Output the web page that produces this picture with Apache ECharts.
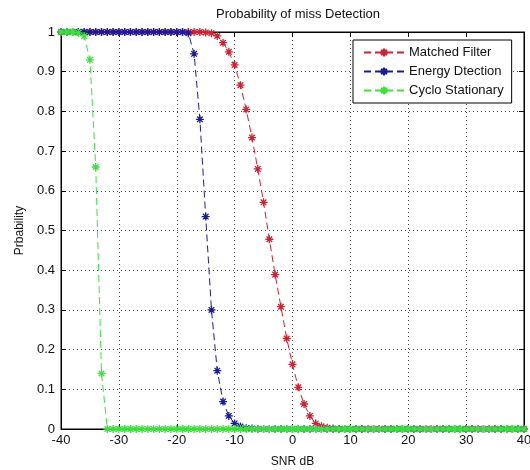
<!DOCTYPE html>
<html><head><meta charset="utf-8">
<script src="https://cdn.jsdelivr.net/npm/echarts@6/dist/echarts.min.js"></script>
<style>html,body{margin:0;padding:0;background:#fff}#c{width:530px;height:470px}</style>
</head><body><div id="c"></div>
<script>
const snr = [-40,-39,-38,-37,-36,-35,-34,-33,-32,-31,-30,-29,-28,-27,-26,-25,-24,-23,-22,-21,
  -20,-19,-18,-17,-16,-15,-14,-13,-12,-11,-10,-9,-8,-7,-6,-5,-4,-3,-2,-1,
  0,1,2,3,4,5,6,7,8,9,10,11,12,13,14,15,16,17,18,19,
  20,21,22,23,24,25,26,27,28,29,30,31,32,33,34,35,36,37,38,39,40];
const matchedFilter = [1,1,1,1,1,1,1,1,1,1, 1,1,1,1,1,1,1,1,1,1, 1,1,1,1,1,
  0.999,0.997,0.99,0.973,0.95,0.917,0.866,0.805,0.734,0.655,0.571,0.478,0.389,0.308,0.228,
  0.163,0.105,0.063,0.033,0.014,0.007,0.003,0.001,
  0,0,0,0,0,0,0,0,0,0, 0,0,0,0,0,0,0,0,0,0, 0,0,0,0,0,0,0,0,0,0, 0,0,0];
const energyDetection = [1,1,1,1,1,1,1,1,1,1, 1,1,1,1,1,1,1,1,1,1, 1,1,
  0.997,0.945,0.78,0.535,0.30,0.147,0.069,0.033,0.014,0.006,0.002,0.001,
  0,0,0,0,0,0,0,0,0,0, 0,0,0,0,0,0,0,0,0,0, 0,0,0,0,0,0,0,0,0,0, 0,0,0,0,0,0,0,0,0,0, 0,0,0,0,0,0,0];
const cycloStationary = [1,1,1, 0.998,0.99,0.93,0.66,0.14,
  0,0,0,0,0,0,0,0,0,0, 0,0,0,0,0,0,0,0,0,0, 0,0,0,0,0,0,0,0,0,0, 0,0,0,0,0,0,0,0,0,0,
  0,0,0,0,0,0,0,0,0,0, 0,0,0,0,0,0,0,0,0,0, 0,0,0,0,0,0,0,0,0,0, 0,0,0];
const seriesNames = ['Matched Filter','Energy Dtection','Cyclo Stationary'];
const seriesColors = ['#cc2233','#1c1c96','#3ee03e'];
const xTicks = {min:-40, max:40, interval:10};
const yTicks = {min:0, max:1, interval:0.1};

const star = 'path://M5,0L5,10M0,5L10,5M1.5,1.5L8.5,8.5M8.5,1.5L1.5,8.5';
const FONT = 'Liberation Sans, Arial, sans-serif';
const chart = echarts.init(document.getElementById('c'), null, {renderer:'canvas'});
function pairs(v){ return snr.map((x,i)=>[x,v[i]]); }
const allData = [matchedFilter, energyDetection, cycloStationary];
const grid = {left:61, right:6, top:32, bottom:41, containLabel:false, outerBoundsMode:'none',
  show:true, borderColor:'#000', borderWidth:1, backgroundColor:'#fff'};
const splitLine = {show:true, lineStyle:{color:'#444', type:[1,3], width:1}};
chart.setOption({
  animation:false,
  backgroundColor:'#fff',
  title:{text:'Probability of miss Detection', left:293, top:3, textAlign:'center',
    textStyle:{fontFamily:FONT, fontSize:13, fontWeight:'normal', color:'#111'}},
  legend:{orient:'vertical', left:353, top:40, width:150, padding:[6,8,6,10], itemGap:6,
    backgroundColor:'#fff', borderColor:'#000', borderWidth:1,
    itemWidth:40, itemHeight:10, data:seriesNames,
    textStyle:{fontFamily:FONT, fontSize:13, color:'#111'}},
  grid:grid,
  xAxis:[{type:'value', min:xTicks.min, max:xTicks.max, interval:xTicks.interval,
    name:'SNR dB', nameLocation:'middle', nameGap:27,
    nameTextStyle:{fontFamily:FONT, fontSize:12, color:'#111'},
    axisLine:{onZero:false, lineStyle:{color:'#000'}}, axisTick:{inside:true, length:5, lineStyle:{color:'#000'}},
    axisLabel:{fontFamily:FONT, fontSize:13, color:'#111', margin:5},
    splitLine:splitLine},
   {type:'value', position:'top', min:xTicks.min, max:xTicks.max, interval:xTicks.interval,
    axisLine:{show:true, onZero:false, lineStyle:{color:'#000'}}, axisTick:{show:true, inside:true, length:5, lineStyle:{color:'#000'}},
    axisLabel:{show:false}, splitLine:{show:false}}],
  yAxis:[{type:'value', min:yTicks.min, max:yTicks.max, interval:yTicks.interval,
    name:'Prbability', nameLocation:'middle', nameGap:33,
    nameTextStyle:{fontFamily:FONT, fontSize:12, color:'#111'},
    axisLine:{show:true, onZero:false, lineStyle:{color:'#000'}}, axisTick:{show:true, inside:true, length:5, lineStyle:{color:'#000'}},
    axisLabel:{fontFamily:FONT, fontSize:13, color:'#111', margin:6},
    splitLine:splitLine},
   {type:'value', position:'right', min:yTicks.min, max:yTicks.max, interval:yTicks.interval,
    axisLine:{show:true, onZero:false, lineStyle:{color:'#000'}}, axisTick:{show:true, inside:true, length:5, lineStyle:{color:'#000'}},
    axisLabel:{show:false}, splitLine:{show:false}}],
  series: seriesNames.map((n,i)=>({
    name:n, type:'line', data:pairs(allData[i]),
    symbol:star, symbolSize:8, showSymbol:true,
    lineStyle:{color:seriesColors[i], width:1, type:[7,4]},
    itemStyle:{color:seriesColors[i], borderColor:seriesColors[i], borderWidth:1.3},
    z:2+i
  }))
});
</script></body></html>
